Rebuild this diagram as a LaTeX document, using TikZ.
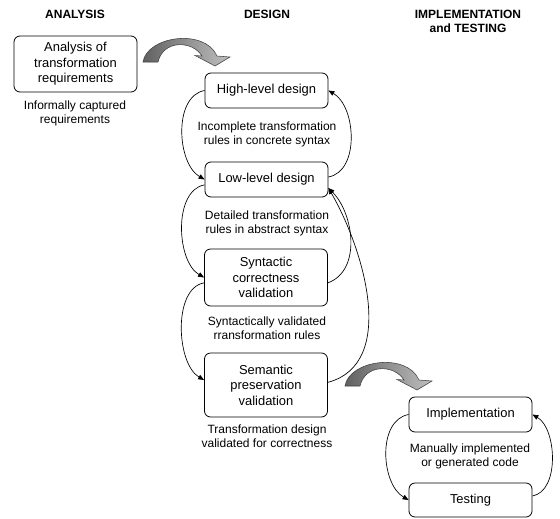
\documentclass[tikz,border=0pt]{standalone}
\usepackage{fontspec}
\setmainfont{Liberation Sans}
\usetikzlibrary{arrows.meta}
\begin{document}
\begin{tikzpicture}[x=0.75pt,y=0.75pt,
  phase/.style={font=\fontsize{9}{10.5}\selectfont\bfseries, align=center, inner sep=0pt},
  stage/.style={draw, line width=0.6pt, rounded corners=4.5pt, align=center,
    inner sep=0pt, minimum width=92.25pt, font=\fontsize{9.7}{11.6}\selectfont},
  note/.style={align=center, inner sep=0pt, font=\fontsize{9}{10.5}\selectfont},
  flow/.style={line width=0.5pt, -{Triangle[length=4.5pt,width=3.6pt]}},
  bigarrow/.style={draw=black!75, line width=0.4pt, left color=black!62, right color=black!25}
]
\useasboundingbox (0,0) rectangle (560,-518);

% phase headings
\node[phase] (hA) at (75,-14) {ANALYSIS};
\node[phase] (hD) at (267,-14) {DESIGN};
\node[phase] (hI) at (468,-21) {IMPLEMENTATION\\and TESTING};

% analysis
\node[stage, minimum height=42pt] (ana) at (75.5,-64) {Analysis of\\transformation\\requirements};
\node[note] (anaN) at (75,-113) {Informally captured\\requirements};

% design
\node[stage, minimum height=26.25pt] (hld) at (266.5,-90.5) {High-level design};
\node[note] (hldN) at (267,-134.5) {Incomplete transformation\\rules in concrete syntax};
\node[stage, minimum height=26.25pt] (lld) at (266.5,-179.5) {Low-level design};
\node[note] (lldN) at (267,-223) {Detailed transformation\\rules in abstract syntax};
\node[stage, minimum height=42.75pt] (syn) at (266,-277.5) {Syntactic\\correctness\\validation};
\node[note] (synN) at (267,-328) {Syntactically validated\\rransformation rules};
\node[stage, minimum height=48pt] (sem) at (266,-385) {Semantic\\preservation\\validation};
\node[note] (semN) at (267,-436.5) {Transformation design\\validated for correctness};

% implementation and testing
\node[stage, minimum height=26.25pt] (impl) at (470.5,-414.5) {Implementation};
\node[note] (implN) at (470,-456) {Manually implemented\\or generated code};
\node[stage, minimum height=25.5pt] (test) at (470.5,-500) {Testing};

% iteration loops
\draw[flow] (hld.west) to[out=190,in=150,distance=24pt] (lld.west);
\draw[flow] ([yshift=1.9pt]lld.east) to[out=10,in=-30,distance=24pt] (hld.east);
\draw[flow] ([yshift=-4pt]lld.west) to[out=190,in=150,distance=24pt] (syn.west);
\draw[flow] ([yshift=-4pt]syn.east) to[out=20,in=-45,distance=27pt] ([yshift=-6.4pt]lld.east);
\draw[flow] ([yshift=-4pt]syn.west) to[out=190,in=150,distance=24pt] ([yshift=3.75pt]sem.west);
\draw[flow] ([yshift=2pt]sem.east) to[out=15,in=-60,distance=54pt] ([yshift=-6.4pt]lld.east);
\draw[flow] (impl.west) to[out=190,in=150,distance=24pt] (test.west);
\draw[flow] ([yshift=3pt]test.east) to[out=10,in=-30,distance=21pt] (impl.east);

% curved block arrows between phases
\foreach \dx/\dy in {0/0, 202/-324}{
  \begin{scope}[shift={(\dx,\dy)}]
    \path[bigarrow] (143,-62) .. controls (147,-36) and (205,-28) .. (217,-56)
      -- (230,-57) -- (215,-66) -- (195,-55.5) -- (202,-56)
      .. controls (192,-40) and (163,-40) .. (158,-62) -- cycle;
  \end{scope}
}
\end{tikzpicture}
\end{document}
